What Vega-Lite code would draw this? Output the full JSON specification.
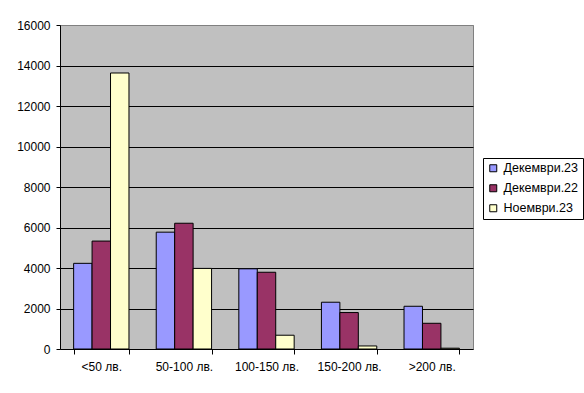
{
  "$schema": "https://vega.github.io/schema/vega-lite/v6.json",
  "width": 413,
  "height": 324,
  "autosize": "none",
  "padding": {"left": 60, "top": 25, "right": 111, "bottom": 44},
  "background": "white",
  "data": {
    "values": [
      {"cat": "<50 лв.", "series": "Декември.23", "value": 4230},
      {"cat": "<50 лв.", "series": "Декември.22", "value": 5330},
      {"cat": "<50 лв.", "series": "Ноември.23", "value": 13630},
      {"cat": "50-100 лв.", "series": "Декември.23", "value": 5770},
      {"cat": "50-100 лв.", "series": "Декември.22", "value": 6210},
      {"cat": "50-100 лв.", "series": "Ноември.23", "value": 3980},
      {"cat": "100-150 лв.", "series": "Декември.23", "value": 3960},
      {"cat": "100-150 лв.", "series": "Декември.22", "value": 3790},
      {"cat": "100-150 лв.", "series": "Ноември.23", "value": 680},
      {"cat": "150-200 лв.", "series": "Декември.23", "value": 2310},
      {"cat": "150-200 лв.", "series": "Декември.22", "value": 1800},
      {"cat": "150-200 лв.", "series": "Ноември.23", "value": 150},
      {"cat": ">200 лв.", "series": "Декември.23", "value": 2110},
      {"cat": ">200 лв.", "series": "Декември.22", "value": 1270},
      {"cat": ">200 лв.", "series": "Ноември.23", "value": 40}
    ]
  },
  "mark": {"type": "bar", "stroke": "black", "strokeWidth": 1},
  "encoding": {
    "x": {
      "field": "cat",
      "type": "nominal",
      "sort": ["<50 лв.", "50-100 лв.", "100-150 лв.", "150-200 лв.", ">200 лв."],
      "scale": {"paddingInner": 0.33, "paddingOuter": 0.165},
      "axis": {
        "title": null,
        "labelAngle": 0,
        "domainColor": "black",
        "tickColor": "black",
        "tickBand": "extent",
        "tickSize": 5,
        "labelPadding": 7,
        "labelFont": "Liberation Sans",
        "labelFontSize": 12,
        "labelColor": "black",
        "grid": false
      }
    },
    "xOffset": {
      "field": "series",
      "sort": ["Декември.23", "Декември.22", "Ноември.23"],
      "scale": {"paddingInner": 0, "paddingOuter": 0}
    },
    "y": {
      "field": "value",
      "type": "quantitative",
      "scale": {"domain": [0, 16000], "nice": false},
      "axis": {
        "title": null,
        "values": [0, 2000, 4000, 6000, 8000, 10000, 12000, 14000, 16000],
        "format": "d",
        "grid": true,
        "gridColor": {"condition": {"test": "datum.value === 16000 || datum.value === 0", "value": "#808080"}, "value": "black"},
        "gridOpacity": 1,
        "domainColor": "black",
        "tickColor": "black",
        "tickSize": 4,
        "labelPadding": 6,
        "labelFont": "Liberation Sans",
        "labelFontSize": 12,
        "labelColor": "black"
      }
    },
    "color": {
      "field": "series",
      "type": "nominal",
      "scale": {
        "domain": ["Декември.23", "Декември.22", "Ноември.23"],
        "range": ["#9999FF", "#993366", "#FFFFCC"]
      },
      "legend": {
        "title": null,
        "orient": "none",
        "legendX": 423,
        "legendY": 133,
        "symbolType": "square",
        "symbolSize": 49,
        "symbolStrokeColor": "black",
        "symbolStrokeWidth": 1,
        "symbolOpacity": 1,
        "labelFont": "Liberation Sans",
        "labelFontSize": 12.5,
        "labelColor": "black",
        "labelOffset": 4,
        "rowPadding": 7,
        "padding": 4,
        "strokeColor": "black",
        "fillColor": "white"
      }
    }
  },
  "config": {
    "view": {"fill": "#C0C0C0", "stroke": "#808080", "strokeWidth": 1}
  }
}
